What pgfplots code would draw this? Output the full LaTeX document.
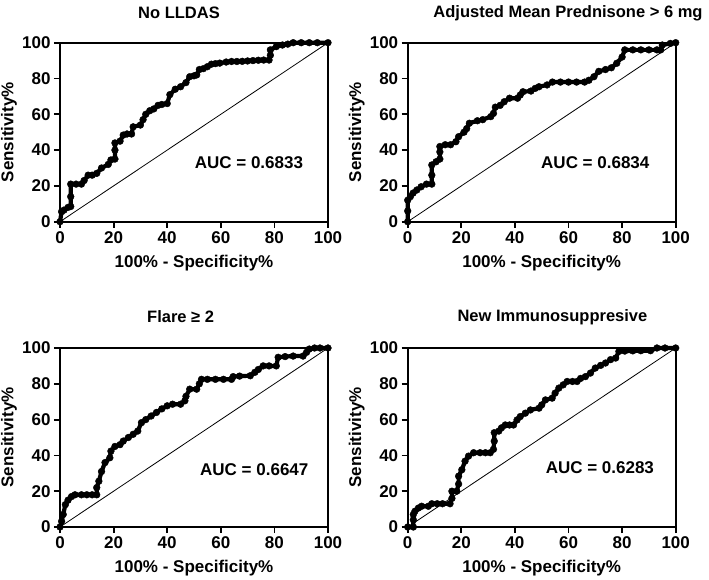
\documentclass[border=0pt]{standalone}
\usepackage{pgfplots}
\pgfplotsset{compat=1.18}
\usepackage{fontspec}
\setmainfont{Liberation Sans}

\newcommand{\bigbf}{\fontsize{17}{19}\selectfont\bfseries}
\newcommand{\titlebf}{\fontsize{16.5}{19}\selectfont\bfseries}

\pgfplotsset{
  rocaxis/.style={
    scale only axis, width=268pt, height=179pt,
    xmin=0,xmax=100,ymin=0,ymax=100,
    xtick={0,20,...,100}, ytick={0,20,...,100},
    tick pos=left, tick align=outside, major tick length=6pt,
    tick style={black, line width=1.8pt},
    axis line style={black, line width=2.2pt},
    tick label style={font=\bigbf},
    /pgf/number format/assume math mode=true,
    xlabel={100\% - Specificity\%},
    ylabel={Sensitivity\%},
    xlabel style={font=\bigbf, at={(axis description cs:0.5,-0.23)}, anchor=center},
    ylabel style={font=\bigbf, at={(axis description cs:-0.19,0.5)}, anchor=center, rotate=0},
    clip=false,
  },
  roc/.style={black, line width=4.2pt, line join=round, line cap=round, mark=*, mark size=3.4pt, mark options={line width=0.4pt}},
  diag/.style={black, line width=0.8pt},
}

\begin{document}
\begin{tikzpicture}
\path[use as bounding box, fill=white] (0pt,0pt) rectangle (709pt,579pt);

% ---------- Panel 1 ----------
\begin{axis}[rocaxis, at={(60pt,357.3pt)}, anchor=south west]
\addplot[diag] coordinates {(0,0) (100,100)};
\addplot[roc] coordinates {
(0,0) (0.6,5.6) (1.5,6.5) (3,8) (4,8.5) (4,14) (4,21) (6,21) (8,21) (9,23) (10.5,26) (12,26)
(13.7,27) (15.5,30) (18,32) (19,34.5) (20.5,35) (20.5,40) (20.5,44) (22.4,45) (23.6,48.4)
(25,49) (26.7,49) (27.3,53) (30,54) (31,57) (32,60) (33.5,62) (35,63) (36.6,65) (38,65.5)
(40,66) (41,71) (43,74) (45,75.4) (47,77.7) (48.4,81) (50,81.5) (51,82) (52,85) (53.5,85.5)
(55,86.6) (56.5,88) (58,88.3) (59.6,88.6) (62,89.2) (64,89.5) (66,89.5) (68,89.6) (70,89.8)
(72,90) (74,90.2) (76,90.3) (78,90.3) (78.5,93) (78.5,96) (80.7,97.8) (83,98.7) (85,99.2)
(87,100) (90,100) (93,100) (96,100) (100,100)};
\node[font=\bigbf] at (axis cs:70.5,32.8) {AUC = 0.6833};
\node[font=\titlebf] at (axis description cs:0.444,1.166) {No LLDAS};
\end{axis}

% ---------- Panel 2 ----------
\begin{axis}[rocaxis, at={(407.7pt,357.3pt)}, anchor=south west]
\addplot[diag] coordinates {(0,0) (100,100)};
\addplot[roc] coordinates {
(0,0) (0,6) (0,12) (1,14) (2,16) (3.4,17.7) (5,19.5) (7,21) (9,21) (9,26) (9,31.7)
(10.6,33.5) (12,35) (12,39) (12,42) (14,43) (16,43) (18,44.7) (19,47.5) (21,50) (22,52)
(23,55) (26,56.4) (28,57) (31,58.7) (32,60.5) (32.7,64) (34.5,65) (36,67) (38,69) (41,69)
(42,70.8) (43,72.6) (46,73) (47.6,74.5) (49,75.4) (52,76.4) (54,78) (57,78) (60,78)
(63,78) (66,78) (67.6,79) (69.5,81) (71.3,84) (73.8,85) (76,86) (78,88.5) (80,92)
(81,96) (84,96) (87,96) (90,96) (93,96) (94.4,96) (95,98.7) (98,99.6) (100,100)};
\node[font=\bigbf] at (axis cs:70,33) {AUC = 0.6834};
\node[font=\titlebf] at (axis description cs:0.598,1.166) {Adjusted Mean Prednisone > 6 mg};
\end{axis}

% ---------- Panel 3 ----------
\begin{axis}[rocaxis, at={(60pt,52pt)}, anchor=south west]
\addplot[diag] coordinates {(0,0) (100,100)};
\addplot[roc] coordinates {
(0,0) (0.6,3.2) (1.2,7) (2,12.5) (3,15) (4.3,17) (5.6,18) (8,18) (10,18) (12,18) (13.7,18)
(13.7,22) (14.5,25.6) (15.5,31) (16.8,36) (18.6,38.7) (19,42.4) (20.5,45) (22.4,46)
(23.6,48) (25.5,50) (27.3,51.8) (29,53.6) (30.4,58.3) (32,60) (34,62) (36,64) (38,66)
(40,67.7) (42,68.6) (45,68.6) (46.6,70.5) (47,73) (48.4,77) (51,77) (52,80) (52.8,82.5)
(55,82.5) (58,82.5) (61,82.5) (64,82.5) (64.6,84) (67,84.3) (71,84.5) (72.7,86.4) (74,88)
(75.8,90) (78,90) (80.7,90) (81.4,94.8) (84,95.2) (87,95.5) (90.7,95.5) (92,97.6)
(93,99.4) (95,100) (97,100) (100,100)};
\node[font=\bigbf] at (axis cs:72.5,32) {AUC = 0.6647};
\node[font=\titlebf] at (axis description cs:0.45,1.174) {Flare ≥ 2};
\end{axis}

% ---------- Panel 4 ----------
\begin{axis}[rocaxis, at={(407.7pt,52pt)}, anchor=south west]
\addplot[diag] coordinates {(0,0) (100,100)};
\addplot[roc] coordinates {
(0,0) (2.1,0) (2.1,4) (2.1,7) (2.7,8.8) (4,10.6) (5.2,11.6) (7.7,11.6) (9,13) (11,13)
(13,13) (15.8,13) (16.5,16) (16.5,20) (18.3,20) (19,24) (19,28.4) (20.2,32) (21.4,36.8)
(22.7,39.6) (24.6,41.5) (27,41.5) (29,41.5) (30.8,41.5) (32,43.4) (32.3,48) (32.3,52.7)
(34,53.6) (35,55.4) (36.4,57) (38,57) (39.5,57) (40.8,59.8) (42,61.7) (43.9,63.6)
(45.8,65.4) (49,66.4) (50,68.2) (51.4,71) (53.9,72) (55,74.8) (56.4,77.6) (58,79.4)
(59.5,81.3) (61.5,81.3) (63.2,81.3) (64.5,83) (66.3,84) (68.2,86) (70,88.8) (72,90.3)
(73.8,91.6) (75.7,93.5) (77.6,94.4) (78.8,98.1) (81,98.3) (84,98.4) (87,98.5) (90.6,98.5)
(93,100) (96,100) (100,100)};
\node[font=\bigbf] at (axis cs:71.7,33) {AUC = 0.6283};
\node[font=\titlebf] at (axis description cs:0.54,1.174) {New Immunosuppresive};
\end{axis}
\end{tikzpicture}
\end{document}
